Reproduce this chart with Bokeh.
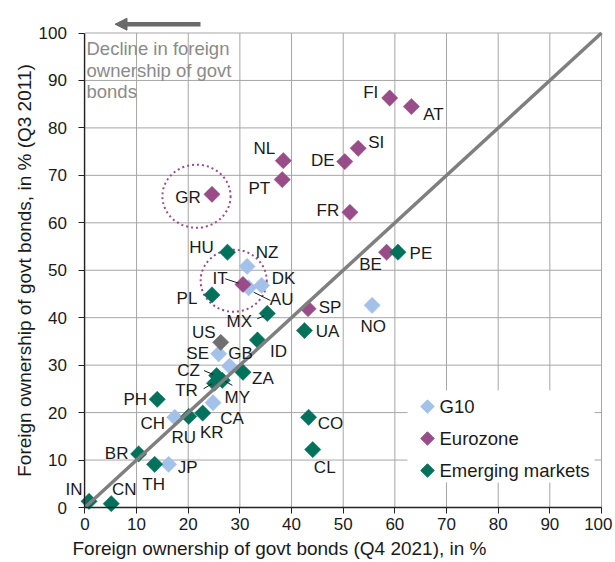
import numpy as np
from bokeh.plotting import figure
from bokeh.models import ColumnDataSource, Range1d, FixedTicker, Arrow, NormalHead
from bokeh.embed import file_html
from bokeh.resources import INLINE
from bokeh.core.properties import value

# ---------------- data ----------------
g10_codes = ["JP", "CH", "CA", "SE", "GB", "NZ", "DK", "AU", "NO"]
g10_q4_2021 = [16.2, 17.4, 24.8, 25.9, 28.0, 31.4, 34.2, 31.7, 55.6]
g10_q3_2011 = [9.1, 19.0, 22.1, 32.4, 29.8, 50.8, 46.8, 46.3, 42.6]

us_codes = ["US"]
us_q4_2021 = [26.3]
us_q3_2011 = [34.8]

ez_codes = ["IT", "SP", "BE", "FR", "DE", "SI", "FI", "AT", "NL", "PT", "GR"]
ez_q4_2021 = [30.6, 43.2, 58.4, 51.3, 50.3, 52.9, 59.0, 63.2, 38.4, 38.2, 24.6]
ez_q3_2011 = [47.0, 41.9, 53.8, 62.2, 72.9, 75.7, 86.3, 84.5, 73.1, 69.1, 66.0]

em_codes = ["IN", "CN", "BR", "TH", "PH", "RU", "KR", "CZ", "TR", "MY", "ZA",
            "ID", "MX", "PL", "HU", "UA", "CO", "CL", "PE"]
em_q4_2021 = [0.8, 5.1, 10.4, 13.5, 14.0, 20.1, 22.8, 25.5, 25.1, 26.6, 30.6,
              33.4, 35.3, 24.6, 27.6, 42.5, 43.3, 44.1, 60.6]
em_q3_2011 = [1.3, 0.8, 11.3, 9.1, 22.8, 19.2, 19.9, 27.8, 26.2, 26.8, 28.5,
              35.3, 40.9, 44.8, 53.8, 37.3, 19.0, 12.2, 53.8]

tick_values = list(range(0, 101, 10))
series_names = ["G10", "Eurozone", "Emerging markets"]

# highlighted groups (dotted circles): centre x, centre y, width, height
circle_x = [21.6, 28.8]
circle_y = [65.6, 47.8]
circle_w = [13.2, 12.8]
circle_h = [13.3, 13.1]

# ---------------- styles / layout ----------------
C_G10 = "#a3c1e9"
C_EZ = "#984d88"
C_EM = "#00715a"
C_US = "#6f6f6f"
C_TXT = "#1a1a1a"
C_GRID = "#a6a6a6"
FONT = "Liberation Sans"

W, H = 612, 560
X0_PX, PX_X = 84.4, 5.166     # pixel of x=0, pixels per unit
Y0_PX, PX_Y = 507.0, 4.745    # pixel of y=0, pixels per unit


def dx(px):  # page px -> data x
    return (px - X0_PX) / PX_X


def dy(py):  # page px -> data y
    return (Y0_PX - py) / PX_Y


# label offsets in pixels (dx right, dy up)
label_offsets = {
    "IN": (-15, 12), "CN": (13, 14), "BR": (-22, 0), "TH": (-1, -20), "JP": (19, -3),
    "PH": (-22, 0), "CH": (-22, -6), "RU": (-5, -21), "KR": (9, -19), "CA": (19, -16),
    "MY": (15, -17), "TR": (-28, -7), "CZ": (-28, 5), "ZA": (20, -6), "GB": (11, 13),
    "SE": (-21, 0), "US": (-17, 10), "ID": (21, -11), "MX": (-28, -8), "UA": (23, -1),
    "SP": (22, 1), "NO": (1, -21), "CO": (22, -6), "CL": (12, -18), "PE": (23, -1),
    "BE": (-16, -12), "FR": (-22, 2), "DE": (-22, 1), "SI": (18, 6), "FI": (-19, 6),
    "AT": (22, -8), "NL": (-19, 12), "PT": (-23, -9), "GR": (-24, -3), "HU": (-26, 5),
    "NZ": (20, 14), "IT": (-23, 6), "DK": (22, 7), "AU": (33, -12), "PL": (-25, -4),
}
# leader lines in pixels relative to the point: (start), (end)
leaders = {
    "IT": ((-17.7, 5.7), (-4.4, 1.3)),
    "AU": ((5, -4.4), (21.7, -12.7)),
    "MX": ((-10, -5.3), (-3.4, -2.7)),
    "CZ": ((-12.7, 5), (-3.3, 1)),
    "TR": ((-11, -5.6), (-2.6, -0.6)),
    "MY": ((3, -1), (10, -5)),
}

p = figure(width=W, height=H,
           x_range=Range1d(dx(0), dx(W)), y_range=Range1d(dy(H), dy(0)),
           output_backend="svg", toolbar_location=None,
           min_border=0, min_border_left=0, min_border_right=0,
           min_border_top=0, min_border_bottom=0)
p.outline_line_color = None
p.background_fill_color = "white"
p.border_fill_color = "white"
p.grid.visible = False

for ax in (p.xaxis[0], p.yaxis[0]):
    ax.ticker = FixedTicker(ticks=tick_values)
    ax.fixed_location = 0
    ax.bounds = (0, 100)
    ax.major_label_text_font = FONT
    ax.major_label_text_font_size = "17px"
    ax.major_label_text_color = C_TXT
    ax.axis_line_color = "#222222"
    ax.axis_line_width = 1.3
    ax.major_tick_line_color = "#222222"
    ax.major_tick_out = 6
    ax.major_tick_in = 0
    ax.minor_tick_line_color = None
p.xaxis[0].major_label_standoff = 4
p.yaxis[0].major_label_standoff = 12
p.yaxis[0].axis_label = "Foreign ownership of govt bonds, in % (Q3 2011)"
p.yaxis[0].axis_label_text_font = FONT
p.yaxis[0].axis_label_text_font_size = "19px"
p.yaxis[0].axis_label_text_font_style = "normal"
p.yaxis[0].axis_label_text_color = C_TXT
p.yaxis[0].axis_label_standoff = 0

# grid lines (limited to the 0-100 box)
p.segment(x0=tick_values, y0=[0] * len(tick_values), x1=tick_values, y1=[100] * len(tick_values),
          line_color=C_GRID, line_width=1)
p.segment(x0=[0] * len(tick_values), y0=tick_values, x1=[100] * len(tick_values), y1=tick_values,
          line_color=C_GRID, line_width=1)

# legend box (white, drawn over the grid)
p.quad(left=[dx(407)], right=[dx(594)], top=[dy(390)], bottom=[dy(482)],
       fill_color="white", line_color=None)

# dotted highlight circles
p.ellipse(x=circle_x, y=circle_y, width=circle_w, height=circle_h,
          fill_color=None, line_color=C_EZ, line_width=2, line_dash="2 3")

groups = [
    (g10_codes, g10_q4_2021, g10_q3_2011, C_G10),
    (us_codes, us_q4_2021, us_q3_2011, C_US),
    (ez_codes, ez_q4_2021, ez_q3_2011, C_EZ),
    (em_codes, em_q4_2021, em_q3_2011, C_EM),
]

all_x, all_y, all_t, all_dx, all_dy = [], [], [], [], []
seg = dict(x0=[], y0=[], x1=[], y1=[])
for codes, xs, ys, col in groups:
    p.scatter(x=xs, y=ys, marker="square", angle=np.pi / 4, size=11.5,
              fill_color=col, line_color=col, line_width=0.5)
    for c, xv, yv in zip(codes, xs, ys):
        ox, oy = label_offsets[c]
        all_x.append(xv); all_y.append(yv); all_t.append(c)
        all_dx.append(ox); all_dy.append(-oy)
        if c in leaders:
            (a, b), (cc, d) = leaders[c]
            seg["x0"].append(xv + a / PX_X); seg["y0"].append(yv + b / PX_Y)
            seg["x1"].append(xv + cc / PX_X); seg["y1"].append(yv + d / PX_Y)

# 45-degree reference line
p.line(x=[0, 100], y=[0, 100], line_color="#7f7f7f", line_width=3.5)

p.segment(x0="x0", y0="y0", x1="x1", y1="y1", source=ColumnDataSource(seg),
          line_color=C_TXT, line_width=1)

lab_src = ColumnDataSource(dict(x=all_x, y=all_y, text=all_t, dx=all_dx, dy=all_dy))
p.text(x="x", y="y", text="text", x_offset="dx", y_offset="dy", source=lab_src,
       text_font=value(FONT), text_font_size="17px", text_color=C_TXT,
       text_align="center", text_baseline="middle")

# annotation text + arrow
ann_src = ColumnDataSource(dict(x=[dx(86)] * 3, y=[dy(48), dy(70), dy(91)],
                                text=["Decline in foreign", "ownership of govt", "bonds"]))
p.text(x="x", y="y", text="text", source=ann_src, text_font=value(FONT),
       text_font_size="18.5px", text_color="#8a8a8a", text_align="left",
       text_baseline="middle")

p.add_layout(Arrow(end=NormalHead(size=12, fill_color="#6b6b6b", line_color="#6b6b6b", line_width=1),
                   x_start=dx(200), y_start=dy(23.7), x_end=dx(114.5), y_end=dy(23.7),
                   line_color="#6b6b6b", line_width=4.5))

# x-axis title (left-shifted as in the original)
p.text(x=[dx(72)], y=[dy(548)], text=["Foreign ownership of govt bonds (Q4 2021), in %"],
       text_font=value(FONT), text_font_size="19px", text_color=C_TXT,
       text_align="left", text_baseline="middle")

# legend (drawn manually so the markers are diamonds like the original)
leg_cols = [C_G10, C_EZ, C_EM]
leg_rows = [406, 438, 470]
p.scatter(x=[dx(427)] * 3, y=[dy(r) for r in leg_rows], marker="square", angle=np.pi / 4,
          size=9.5, fill_color=leg_cols, line_color=leg_cols)
p.text(x=[dx(439)] * 3, y=[dy(r) for r in leg_rows], text=series_names,
       text_font=value(FONT), text_font_size="18.5px", text_color=C_TXT,
       text_align="left", text_baseline="middle")

open("out.html", "w").write(file_html(p, INLINE))
